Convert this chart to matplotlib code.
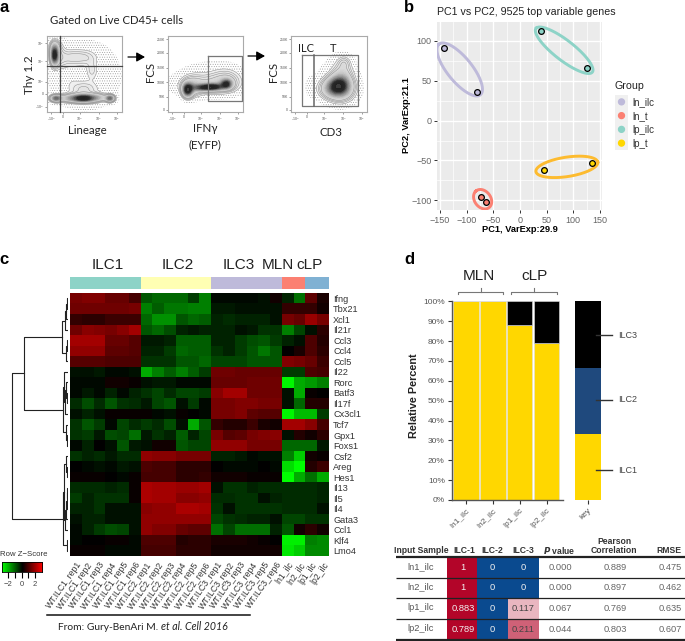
import numpy as np
import matplotlib
matplotlib.use('Agg')
import matplotlib.pyplot as plt
from matplotlib.colors import LinearSegmentedColormap

plt.rcParams['font.family'] = ['Liberation Sans', 'DejaVu Sans']
plt.rcParams['hatch.color'] = '#8a8a8a'
plt.rcParams['hatch.linewidth'] = .3
CAL = ['Lato', 'DejaVu Sans']
W, H = 685, 641

# panel b
pc_groups = ['ln_ilc', 'ln_t', 'lp_ilc', 'lp_t']
pc_colors = ['#BEBADA', '#FB8072', '#8DD3C7', '#FFD700']
ring_colors = ['#BEBADA', '#FB8072', '#8DD3C7', '#FDBB2F']
pc1_vals = [[-143, -81], [-73, -63], [39, 125], [45, 136]]
pc2_vals = [[91, 36], [-96, -102], [112, 66], [-62, -53]]
ring_centres = [(-113, 64), (-70, -98.5), (83, 88), (88, -58)]
ring_major = [(-40, 31), (-13, 10), (-52, 28), (58, 6)]
ring_minor = [(15, 12), (11, 7), (15, 8), (-3, 12)]

# panel c
genes = ['Ifng', 'Tbx21', 'Xcl1', 'Il21r', 'Ccl3', 'Ccl4', 'Ccl5', 'Il22', 'Rorc', 'Batf3', 'Il17f', 'Cx3cl1',
         'Tcf7', 'Gpx1', 'Foxs1', 'Csf2', 'Areg', 'Hes1', 'Il13', 'Il5', 'Il4', 'Gata3', 'Ccl1', 'Klf4', 'Lmo4']
samples = [f'WT.ILC{i}_rep{j}' for i in (1, 2, 3) for j in range(1, 7)] + ['ln1_ilc', 'ln2_ilc', 'lp1_ilc', 'lp2_ilc']
zscores = [
    [1.4, 1.5, 1.5, 1.2, 1.2, 0.8, -1.0, -1.2, -1.2, -1.2, -0.7, -1.5, -0.1, -0.1, -0.1, -0.1, -0.2, 0.2, -0.4, -1.3, 1.1, 0.3],
    [1.3, 1.3, 1.3, 1.3, 1.3, 1.4, -1.5, -1.1, -1.4, -1.4, -1.5, -1.5, -0.3, -0.3, -0.2, -0.2, -0.2, -0.2, 0.6, 0.6, 0.6, 0.2],
    [0.6, 0.5, 0.5, 0.7, 0.7, 0.7, -1.2, -1.7, -1.7, -1.0, -1.2, -1.1, -0.4, -0.5, -0.4, -0.4, -0.4, -0.2, 1.4, 1.2, 1.8, 1.4],
    [1.3, 1.6, 1.5, 1.4, 1.6, 1.9, -1.0, -1.2, -0.9, -0.4, -0.3, -0.4, -0.4, -0.4, -0.2, -0.3, -0.6, -0.6, -1.5, -0.8, -0.2, 0.5],
    [1.9, 1.9, 1.9, 1.2, 1.2, 1.0, -0.3, -0.3, -0.4, -1.1, -1.1, -1.1, -0.4, -0.4, -0.7, -0.9, -1.0, -0.7, -0.4, -0.2, 0.9, 0.4],
    [1.7, 1.7, 1.7, 1.1, 1.1, 1.0, -0.4, -0.4, -0.7, -1.2, -1.1, -1.1, -0.6, -0.4, -0.7, -1.0, -1.4, -1.0, 0.0, 0.3, 0.9, 0.5],
    [1.0, 1.0, 1.0, 0.9, 0.9, 0.9, -0.6, -0.6, -0.6, -1.0, -1.0, -1.2, -0.8, -0.8, -0.8, -1.0, -1.0, -1.0, 1.5, 1.4, 1.2, 0.7],
    [-0.2, -0.2, -0.3, -0.1, -0.1, -0.2, -2.0, -1.5, -1.1, -1.5, -1.1, -0.7, 1.3, 1.3, 1.2, 1.2, 1.2, 1.2, -0.7, -0.7, 0.9, 0.8],
    [-0.1, -0.1, -0.1, 0.2, 0.2, 0.1, -0.2, -0.3, -0.3, -0.1, -0.1, -0.1, 1.2, 1.2, 1.2, 1.3, 1.3, 1.3, -2.9, -2.0, -1.8, -1.5],
    [-0.1, -0.3, -0.1, -0.4, -0.1, -0.4, -0.6, -0.8, -0.5, -0.8, -0.8, -0.7, 1.6, 1.9, 1.9, 1.3, 1.3, 1.3, -0.2, -2.0, 0.1, 0.0],
    [-0.5, -0.9, -0.5, -1.0, -0.6, -0.5, -0.3, -0.8, -1.0, -0.2, -0.7, -0.1, 1.4, 1.4, 1.5, 1.5, 1.4, 1.4, -0.2, -1.2, 0.4, 0.4],
    [-0.2, -0.4, -0.2, 0.1, 0.1, 0.1, 0.1, -0.1, -0.2, 0.1, 0.0, -0.1, 1.4, 1.4, 1.5, 1.1, 1.0, 1.0, -2.9, -2.2, -2.2, -0.7],
    [-0.6, -1.0, -0.7, -0.1, -0.8, -0.5, -0.7, -0.5, -0.9, -0.2, -2.0, -1.0, 0.6, 0.4, 0.4, 0.7, 0.3, 0.2, 1.9, 1.9, 1.6, 0.8],
    [-0.6, -0.7, -0.3, -0.9, -0.8, -1.3, -0.3, -0.6, -0.4, -1.1, -0.4, -0.8, 1.4, 1.0, 1.1, 1.4, 1.5, 1.6, -0.2, 0.4, 0.2, 0.5],
    [-0.1, -0.4, 0.0, -0.2, -1.0, -0.3, -0.2, 0.2, 0.2, -1.0, -0.8, -0.8, 1.7, 1.7, 1.7, 1.4, 1.4, 1.4, -1.2, -1.2, -1.2, -0.3],
    [-0.6, -0.4, -0.5, -0.3, -0.5, -0.5, 1.7, 1.6, 1.6, 1.4, 1.4, 1.4, -0.4, -0.4, -0.3, -0.1, -0.2, -0.2, -1.5, -2.4, 0.2, 0.1],
    [0.0, -0.1, -0.2, -0.1, -0.3, -0.2, 0.9, 0.8, 0.8, 0.5, 0.5, 0.5, 0.0, -0.1, -0.1, -0.1, 0.0, -0.1, -2.6, -3.0, 0.4, 0.7],
    [0.1, 0.1, 0.1, 0.0, -0.1, 0.1, 0.8, 0.8, 0.8, 0.5, 0.5, 0.6, 0.2, 0.2, 0.2, 0.1, 0.1, 0.1, -3.0, -2.0, -1.3, -2.0],
    [-0.5, -0.5, -0.5, -0.4, -0.5, 0.1, 2.0, 1.9, 1.9, 1.8, 1.8, 1.9, -0.2, -0.6, -0.6, -0.4, -0.5, -0.5, -0.5, -0.5, -0.5, -0.4],
    [-0.7, -0.4, -0.6, -0.6, -0.6, 0.1, 2.0, 1.9, 1.9, 1.6, 1.6, 1.7, -0.5, -0.5, -0.6, -0.6, -0.2, -0.4, -0.5, -0.5, -0.5, -0.4],
    [-0.4, -0.4, -0.6, -0.2, -0.2, -0.2, 1.6, 1.7, 1.7, 2.0, 2.0, 1.9, -0.6, -0.2, -0.6, -0.6, -0.6, -0.6, -0.5, -0.5, -0.5, -0.2],
    [-0.2, -0.4, -0.4, -0.2, -0.2, -0.2, 1.7, 1.7, 1.7, 1.7, 1.7, 1.7, -0.8, -0.6, -0.5, -0.4, -0.4, -0.2, -0.8, -0.8, -0.6, -0.6],
    [-0.1, -0.4, -0.7, -0.9, -0.8, -0.2, 1.7, 1.5, 1.5, 1.2, 1.1, 1.1, -1.3, -0.8, -1.3, -1.3, -1.3, -0.4, -1.0, 0.2, 0.5, 0.2],
    [-0.1, 0.0, 0.0, 0.1, 0.1, -0.1, 0.9, 0.9, 0.9, 0.4, 0.5, 0.5, 0.3, 0.3, 0.3, 0.2, 0.1, 0.0, -2.8, -2.8, -1.5, -1.6],
    [0.1, 0.1, 0.1, -0.1, -0.1, -0.1, 0.8, 0.8, 0.8, 0.5, 0.5, 0.5, 0.2, 0.2, 0.2, 0.2, 0.2, 0.2, -2.7, -2.4, -1.6, -1.6],
]
group_names = ['ILC1', 'ILC2', 'ILC3', 'MLN', 'cLP']
group_sizes = [6, 6, 6, 2, 2]
group_colors = ['#8DD3C7', '#FFFFB3', '#BEBADA', '#FB8072', '#80B1D3']
# child a, child b, height
merges = [(0, 1, 1), (25, 2, 2), (26, 3, 3), (4, 5, 1), (28, 6, 2), (27, 29, 5.7),
          (9, 10, 1), (8, 31, 2), (32, 11, 3), (7, 33, 4), (13, 14, 1), (12, 35, 2), (34, 36, 4.7),
          (30, 37, 43.7),
          (16, 17, 1), (15, 39, 2), (18, 19, 1), (41, 20, 1.5), (42, 21, 2), (43, 22, 3),
          (40, 44, 4), (23, 24, 1), (45, 46, 5),
          (38, 47, 55.7)]

# panel d
bar_samples = ['ln1_ilc', 'ln2_ilc', 'lp1_ilc', 'lp2_ilc']
ilc1_pct = [100, 100, 88.3, 78.9]
ilc2_pct = [0, 0, 0, 0]
ilc3_pct = [0, 0, 11.7, 21.1]
key_pct = [33.3, 33.3, 33.4]
key_names = ['ILC1', 'ILC2', 'ILC3']
key_marks = [15, 50.5, 83]
pct_colors = ['#FFD700', '#1F497D', '#000000']

tbl_rows = ['ln1_ilc', 'ln2_ilc', 'lp1_ilc', 'lp2_ilc']
tbl_fracs = [[1, 0, 0], [1, 0, 0], [0.883, 0, 0.117], [0.789, 0, 0.211]]
tbl_frac_text = [['1', '0', '0'], ['1', '0', '0'], ['0.883', '0', '0.117'], ['0.789', '0', '0.211']]
tbl_p = ['0.000', '0.000', '0.067', '0.044']
tbl_r = ['0.889', '0.897', '0.769', '0.803']
tbl_rmse = ['0.475', '0.462', '0.635', '0.607']

# panel a: density blobs x, y, sx, sy, weight
flow1 = [(.10, .75, .035, .085, .95), (.11, .87, .06, .06, .15), (.17, .72, .06, .10, .15),
         (.47, .72, .13, .07, .16), (.30, .72, .08, .07, .09),
         (.12, .18, .05, .03, .7), (.49, .18, .10, .035, 1.0), (.84, .18, .04, .03, .7),
         (.30, .18, .09, .035, .35), (.68, .19, .08, .035, .32), (.49, .30, .13, .07, .15),
         (.60, .55, .05, .08, .11), (.30, .47, .08, .10, .04), (.50, .48, .42, .40, .05)]
flow2 = [(.26, .29, .045, .06, .9), (.33, .33, .08, .09, .2), (.60, .33, .10, .03, .75), (.78, .37, .05, .04, .7),
         (.45, .32, .10, .03, .45), (.52, .36, .26, .09, .2), (.78, .42, .13, .10, .17), (.55, .47, .30, .16, .05)]
flow3 = [(.63, .35, .10, .085, .75), (.52, .30, .11, .08, .25), (.66, .27, .12, .10, .25),
         (.68, .50, .09, .13, .22), (.70, .65, .05, .05, .1), (.60, .42, .22, .22, .05), (.25, .33, .04, .08, .05)]
flow_x_ticks = [.05, .21, .44, .69, .93]
flow_x_labels = ['-10$^3$', '0', '10$^3$', '10$^4$', '10$^5$']
flow_y_ticks = [.03, .20, .39, .58, .78, .96]
flow_y_labels = ['0', '50K', '100K', '150K', '200K', '250K']
lin_y_ticks = [.07, .24, .40, .67, .91]
lin_y_labels = ['-10$^3$', '0', '10$^3$', '10$^4$', '10$^5$']

fig = plt.figure(figsize=(W / 100, H / 100), dpi=100)


def px_ax(x0, y0, x1, y1):
    return fig.add_axes([x0 / W, 1 - y1 / H, (x1 - x0) / W, (y1 - y0) / H])


ov = px_ax(0, 0, W, H)
ov.set_xlim(0, W)
ov.set_ylim(H, 0)
ov.axis('off')
ov.set_zorder(10)


def T(x, y, s, size=7, ha='center', va='center', **kw):
    ov.text(x, y, s, fontsize=size, ha=ha, va=va, **kw)


for s, x, y in [('a', 4, 8), ('b', 409, 7), ('c', 4, 260), ('d', 409, 259)]:
    T(x, y, s, 12, fontweight='bold')

# --- a ---
flow_cmap = LinearSegmentedColormap.from_list('flow', [(0, '#f2f2f2'), (.25, '#c8c8c8'), (.5, '#808080'), (.72, '#2a2a2a'),
                                                       (.9, '#202020'), (.96, '#9a9a9a'), (1, '#ffffff')])
gx, gy = np.meshgrid(np.linspace(0, 1, 300), np.linspace(0, 1, 300))


def flow_plot(box, blobs, yt, ytl):
    ax = px_ax(*box)
    d = np.zeros_like(gx)
    for x, y, sx, sy, w in blobs:
        d += w * np.exp(-(gx - x) ** 2 / (2 * sx ** 2) - (gy - y) ** 2 / (2 * sy ** 2))
    d = np.minimum(d, 1.3)
    ax.contourf(gx, gy, d, levels=[.025, .1], colors='none', hatches=['.......'])
    ax.contourf(gx, gy, d, levels=np.linspace(.1, 1.3, 40), cmap=flow_cmap, extend='max')
    ax.contour(gx, gy, d, levels=[.1, .14, .18, .23], colors='#8a8a8a', linewidths=.35)
    ax.set_xlim(0, 1)
    ax.set_ylim(0, 1)
    for sp in ax.spines.values():
        sp.set_color('#aaaaaa')
        sp.set_linewidth(.8)
    ax.set_xticks(flow_x_ticks, flow_x_labels)
    ax.set_yticks(yt, ytl)
    ax.tick_params(length=1.5, width=.4, labelsize=2.5, pad=.8, colors='#555555')
    return ax


a1 = flow_plot((47, 36, 122, 112), flow1, lin_y_ticks, lin_y_labels)
a2 = flow_plot((168, 36, 243, 112), flow2, flow_y_ticks, flow_y_labels)
a3 = flow_plot((291, 36, 367, 112), flow3, flow_y_ticks, flow_y_labels)
ov.plot([60, 60], [36, 112], color='#444444', lw=.9)
ov.plot([47, 122], [66, 66], color='#444444', lw=.9)
ov.plot([208, 242, 242, 208, 208], [56, 56, 101, 101, 56], color='#777777', lw=.9)
ov.plot([301.7, 357.7, 357.7, 301.7, 301.7], [54.5, 54.5, 106, 106, 54.5], color='#777777', lw=.9)
ov.plot([314, 314], [54.5, 106], color='#666666', lw=1.1)
for x0, x1, y in [(128, 145, 57), (248, 265, 56)]:
    ov.annotate('', xy=(x1, y), xytext=(x0, y), arrowprops=dict(arrowstyle='-|>,head_width=.28,head_length=.5', color='k', lw=.9, shrinkA=0, shrinkB=0))
T(50, 21, 'Gated on Live CD45+ cells', 8.2, ha='left', family=CAL, color='#222222')
T(30, 75, 'Thy 1.2', 8.4, rotation=90, family=CAL, color='#222222')
T(87, 130, 'Lineage', 8.3, family=CAL, color='#222222')
T(151, 72, 'FCS', 8.2, rotation=90, family=CAL, color='#222222')
T(205, 129, 'IFNγ', 8.3, family=CAL, color='#222222')
T(205, 145, '(EYFP)', 8.3, family=CAL, color='#222222')
T(274, 72, 'FCS', 8.2, rotation=90, family=CAL, color='#222222')
T(331, 132, 'CD3', 8.3, family=CAL, color='#222222')
T(306, 49, 'ILC', 8, family=CAL, color='#222222')
T(333, 49, 'T', 8, family=CAL, color='#222222')

# --- b ---
axb = px_ax(437, 22, 602, 210)
axb.set_facecolor('#EBEBEB')
axb.set_axisbelow(True)
axb.set_xlim(-155.6, 154)
axb.set_ylim(-112, 123.4)
axb.set_xticks([-150, -100, -50, 0, 50, 100, 150])
axb.set_yticks([-100, -50, 0, 50, 100])
axb.set_xticks(np.arange(-125, 150, 50), minor=True)
axb.set_yticks(np.arange(-75, 100, 50), minor=True)
axb.grid(which='major', color='white', lw=1)
axb.grid(which='minor', color='white', lw=.5)
axb.tick_params(which='minor', length=0)
axb.tick_params(which='major', length=2.5, width=.7, color='#333333', labelsize=6.5, labelcolor='#666666', pad=1.5)
for sp in axb.spines.values():
    sp.set_visible(False)
t = np.linspace(0, 2 * np.pi, 200)
for i in range(4):
    c, a, b = ring_centres[i], ring_major[i], ring_minor[i]
    axb.plot(c[0] + a[0] * np.cos(t) + b[0] * np.sin(t), c[1] + a[1] * np.cos(t) + b[1] * np.sin(t), color=ring_colors[i], lw=2.1)
    axb.scatter(pc1_vals[i], pc2_vals[i], s=17, color=pc_colors[i], edgecolor='k', linewidth=.9, zorder=3)
T(437, 12, 'PC1 vs PC2, 9525 top variable genes', 7.7, ha='left', color='#222222')
T(520, 229, 'PC1, VarExp:29.9', 6.7, fontweight='bold')
T(407, 115, 'PC2, VarExp:21.1', 6.7, rotation=90, fontweight='bold')
T(615, 86, 'Group', 7.7, ha='left', color='#222222')
axl = px_ax(615, 95, 628, 150)
axl.axis('off')
axl.add_patch(plt.Rectangle((0, 0), 1, 1, transform=axl.transAxes, color='#F0F0F0'))
axl.set_xlim(0, 1)
axl.set_ylim(len(pc_groups) - .5, -.5)
axl.scatter([.5] * 4, range(4), s=18, color=pc_colors, zorder=3)
for i, g in enumerate(pc_groups):
    T(632.5, 101.7 + 14 * i, g, 7, ha='left', color='#333333')

# --- c ---
axh = px_ax(70, 293, 329, 556)
hm_cmap = LinearSegmentedColormap.from_list('gbr', ['#00FF00', '#000000', '#FF0000'])
axh.imshow(np.array(zscores), cmap=hm_cmap, vmin=-3, vmax=3, aspect='auto', interpolation='nearest')
axh.set_xticks(range(len(samples)), samples, rotation=55, ha='right', rotation_mode='anchor', fontsize=6.2, color='#333333')
axh.yaxis.tick_right()
axh.set_yticks(range(len(genes)), genes, fontsize=6.6, color='#333333')
axh.tick_params(length=0, pad=3)
for sp in axh.spines.values():
    sp.set_visible(False)

axg = px_ax(70, 277, 329, 289)
left = 0
for n, col in zip(group_sizes, group_colors):
    axg.bar(left, 1, width=n, align='edge', color=col)
    left += n
axg.set_xlim(0, left)
axg.set_ylim(0, 1)
axg.axis('off')
for name, x in zip(group_names, [108, 178, 239, 278, 309.5]):
    T(x, 265, name, 11, color='#222222')

axd = px_ax(10, 293, 68, 556)
axd.set_xlim(58, 0)
axd.set_ylim(len(genes) - .5, -.5)
axd.axis('off')
node_y = {i: float(i) for i in range(len(genes))}
node_h = {i: 0 for i in range(len(genes))}
for k, (a, b, h) in enumerate(merges):
    axd.plot([node_h[a], h, h, node_h[b]], [node_y[a], node_y[a], node_y[b], node_y[b]], color='#222222', lw=.8)
    node_y[len(genes) + k] = (node_y[a] + node_y[b]) / 2
    node_h[len(genes) + k] = h

axk = px_ax(1.5, 562, 41.7, 572)
axk.imshow(np.linspace(-3, 3, 120).reshape(1, -1), cmap=hm_cmap, aspect='auto', extent=[-3, 3, 0, 1])
axk.set_yticks([])
axk.set_xticks([-2, -1, 0, 1, 2], ['\u22122', '', '0', '', '2'], fontsize=5.5, color='#444444')
axk.tick_params(length=4, width=.8, pad=2.5, direction='out')
for sp in axk.spines.values():
    sp.set_linewidth(.6)
T(0, 555, 'Row Z\u2212Score', 5.6, ha='left', color='#333333')
ov.plot([47, 250], [615, 615], color='#111111', lw=1.1)
T(58, 627, 'From: Gury-BenAri M.', 7.4, ha='left', family=CAL, color='#222222')
T(161, 627, 'et al. Cell 2016', 7.6, ha='left', family=CAL, style='italic', color='#222222')

# --- d ---
axs = px_ax(451.7, 301.3, 562.7, 500)
xb = np.arange(len(bar_samples))
bottom = np.zeros(len(xb))
for vals, col in zip([ilc1_pct, ilc2_pct, ilc3_pct], pct_colors):
    axs.bar(xb, vals, bottom=bottom, width=.95, color=col, edgecolor='#dddddd', linewidth=.4)
    bottom += np.array(vals)
axs.set_xlim(-.524, 3.6)
axs.set_ylim(0, 100)
axs.set_yticks(range(0, 101, 10), [f'{v}%' for v in range(0, 101, 10)])
axs.set_xticks(xb, bar_samples, rotation=45, ha='right', rotation_mode='anchor')
axs.tick_params(labelsize=6, labelcolor='#555555', length=3, width=.8, color='#333333', pad=2)
axs.spines['top'].set_visible(False)
axs.spines['right'].set_visible(False)
axs.spines['left'].set_color('#555555')
axs.spines['left'].set_linewidth(1)
axs.spines['bottom'].set_color('#555555')
axs.spines['bottom'].set_linewidth(1)

axq = px_ax(575.3, 301.3, 600.7, 500)
bot = 0
for v, col in zip(key_pct, pct_colors):
    axq.bar(0, v, bottom=bot, width=1, color=col)
    bot += v
axq.set_xlim(-.5, .5)
axq.set_ylim(0, 100)
axq.set_yticks([])
axq.set_xticks([0], ['key'], rotation=45, ha='right', rotation_mode='anchor')
axq.tick_params(labelsize=6, labelcolor='#555555', length=3, width=.8, color='#333333', pad=2)
for sp in axq.spines.values():
    sp.set_visible(False)
for name, m in zip(key_names, key_marks):
    axq.plot([.32, .94], [m, m], color='#333333', lw=1, clip_on=False)
    axq.text(1.17, m, name, fontsize=6.5, color='#444444', va='center', ha='left')

T(414, 396, 'Relative Percent', 7.8, rotation=90, fontweight='bold', color='#222222')
T(479, 276, 'MLN', 11, color='#222222')
T(535, 276, 'cLP', 11, color='#222222')
for x0, xc, x1 in [(458, 481, 503), (511, 534, 556.7)]:
    ov.plot([x0, x0, x1, x1], [293.5, 292, 292, 293.5], color='#777777', lw=.8)
    ov.plot([xc, xc], [292, 288], color='#777777', lw=.8)

col_x = [464, 492.7, 523.5]
row_edges = [557, 577.7, 598.3, 619, 640]
axt = px_ax(446.7, 557, 539, 640)
red = np.array([0.70, 0.02, 0.16])
blue = np.array([0.04, 0.29, 0.56])
colours = np.zeros((4, 3, 3))
for i, row in enumerate(tbl_fracs):
    for j, v in enumerate(row):
        if v == 0:
            colours[i, j] = blue
        else:
            s = min(1, (v / .3) ** 1.3)
            colours[i, j] = (1 - s) + s * red
axt.pcolormesh(np.array([446.7, 477.3, 508.3, 539]), np.array(row_edges), colours)
axt.set_xlim(446.7, 539)
axt.set_ylim(640, 557)
axt.axis('off')
for i in range(4):
    yc = (row_edges[i] + row_edges[i + 1]) / 2
    T(420.7, yc - 1, tbl_rows[i], 6.7, color='#555555')
    for j in range(3):
        dark = tbl_frac_text[i][j] in ('0.117', '0.211')
        T(col_x[j] - (0 if j else 1), yc, tbl_frac_text[i][j], 6.7, color='#444444' if dark else '#f2f2f2')
    T(560, yc, tbl_p[i], 6.7, color='#666666')
    T(615, yc, tbl_r[i], 6.7, color='#666666')
    T(670.7, yc, tbl_rmse[i], 6.7, color='#666666')
for y, lw in zip(row_edges, [1.6, .9, .9, .9, 1.6]):
    ov.plot([396, 685], [y, y], color='#222222', lw=lw, solid_capstyle='butt')
hy = 550.5
for x, s in [(421.5, 'Input Sample'), (464, 'ILC-1'), (492.7, 'ILC-2'), (523, 'ILC-3'), (669, 'RMSE')]:
    T(x, hy, s, 6.2, fontweight='bold', color='#333333')
T(559, hy, '$\\bfit{P}$ value', 6.2, fontweight='bold', color='#333333')
T(614, 542, 'Pearson', 6.2, fontweight='bold', color='#333333')
T(614, 550.5, 'Correlation', 6.2, fontweight='bold', color='#333333')

fig.savefig('out.png', dpi=100)
